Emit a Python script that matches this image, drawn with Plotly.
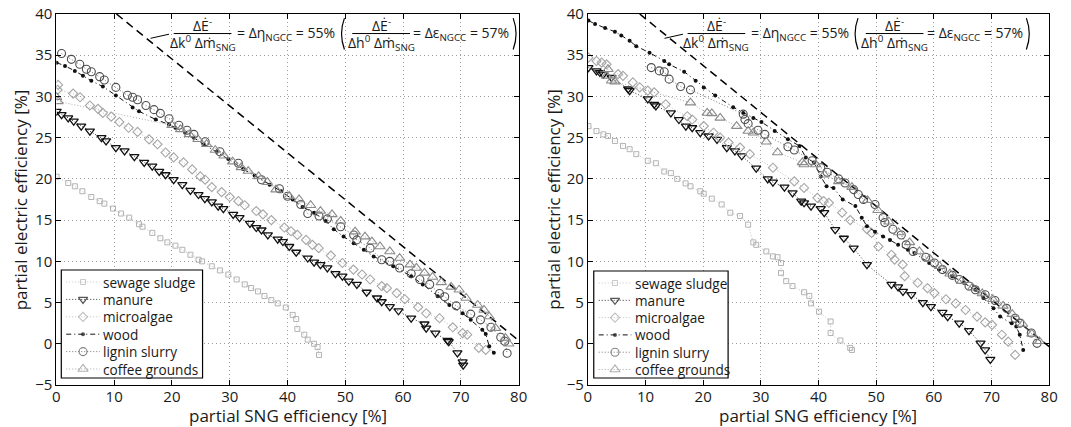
import plotly.graph_objects as go

# ---------------- left panel: basis k0 ----------------
sewage_L_x = [0.05, 2.06, 3.2, 4.5, 6.05, 7.5, 8.3, 9.8, 11.2, 12.6, 14.3, 14.9, 16.6, 18.0, 19.2, 20.6, 21.8, 23.2, 24.6, 25.2,
              26.9, 28.3, 29.75, 31.2, 32.6, 33.7, 34.9, 36.0, 37.2, 38.3, 39.7, 40.9, 41.5, 41.7, 42.9, 43.5, 44.6, 45.2, 45.45]
sewage_L_y = [20.26, 19.5, 19.1, 18.5, 17.8, 17.3, 17.0, 16.4, 15.8, 15.3, 14.5, 14.2, 13.45, 12.8, 12.3, 11.9, 11.4, 10.8, 10.2, 10.0,
              9.4, 8.9, 8.4, 7.8, 7.2, 6.76, 6.35, 5.8, 5.3, 4.9, 4.4, 3.5, 3.0, 1.8, 1.1, 0.5, 0.0, -0.4, -1.35]

manure_L_x = [0.05, 0.9, 2.05, 3.0, 4.3, 5.8, 7.8, 8.6, 10.3, 11.8, 13.5, 15.2, 16.6, 17.8, 18.9, 20.3, 21.8, 23.2, 24.6, 25.7,
              26.9, 28.0, 28.9, 30.6, 31.7, 33.5, 34.6, 35.5, 36.6, 38.3, 39.2, 40.3, 41.5, 43.5, 44.6, 45.7, 46.9, 48.3, 49.5, 50.6,
              52.0, 53.7, 55.5, 56.3, 57.7, 59.2, 61.4, 63.7, 64.0, 65.6, 67.7, 67.9, 69.4, 70.3, 70.4]
manure_L_y = [28.2, 27.8, 27.4, 27.0, 26.4, 25.8, 25.0, 24.6, 23.8, 23.4, 22.7, 22.0, 21.55, 20.9, 20.5, 19.9, 19.3, 18.6, 18.1, 17.6,
              17.2, 16.7, 16.4, 15.7, 15.3, 14.6, 14.1, 13.8, 13.2, 12.7, 12.4, 11.8, 11.1, 10.4, 9.9, 9.6, 9.2, 8.5, 8.2, 7.6,
              7.2, 6.25, 5.55, 5.1, 4.5, 4.0, 3.1, 2.4, 1.9, 1.3, 0.4, 0.26, -1.1, -2.2, -2.6]

algae_L_x = [0.3, 0.2, 2.9, 4.1, 5.8, 7.2, 8.05, 9.5, 10.9, 12.5, 14.05, 16.05, 17.5, 18.9, 20.3, 22.0, 23.5, 24.9, 25.75, 26.9,
             28.6, 30.0, 31.5, 32.6, 34.6, 35.75, 37.2, 39.45, 40.6, 41.7, 43.2, 44.3, 45.4, 47.5, 49.5, 51.4, 52.9, 54.3, 56.3, 57.2,
             58.9, 60.3, 62.6, 64.0, 66.3, 68.6, 70.3, 71.1, 73.1, 74.3]
algae_L_y = [31.4, 30.8, 30.35, 29.9, 28.9, 28.5, 28.0, 27.55, 26.9, 26.2, 25.7, 24.8, 24.2, 23.2, 22.6, 22.0, 21.15, 20.3, 19.9, 19.0,
             18.4, 17.8, 17.3, 16.8, 16.1, 15.7, 15.0, 14.1, 13.65, 13.2, 12.6, 12.0, 11.6, 10.7, 9.8, 9.0, 8.4, 7.8, 7.0, 6.75,
             6.15, 5.4, 4.45, 3.7, 3.1, 2.0, 1.3, 1.1, -0.5, -0.75]

wood_L_x = [0.05, 1.5, 3.2, 4.6, 6.05, 8.05, 10.3, 13.2, 14.3, 17.2, 19.5, 20.6, 22.3, 23.8, 25.5, 27.75, 29.75, 32.3, 34.3, 36.9,
            38.9, 40.9, 42.6, 44.6, 46.6, 48.0, 49.7, 51.45, 53.2, 54.9, 58.3, 61.4, 63.4, 66.0, 68.0, 70.3, 71.7, 73.7, 74.3, 74.9, 75.7]
wood_L_y = [34.1, 33.7, 33.1, 32.5, 31.9, 31.2, 30.1, 28.65, 28.2, 27.2, 26.6, 26.2, 25.6, 25.0, 24.2, 23.3, 22.4, 21.2, 20.4, 19.3,
            18.5, 17.5, 16.6, 15.9, 14.9, 13.9, 13.0, 12.2, 11.4, 10.6, 9.4, 8.2, 7.2, 5.75, 4.7, 3.7, 2.9, 1.7, 1.2, -0.3, -1.1]

lignin_L_x = [0.9, 2.6, 4.05, 5.2, 6.05, 7.5, 8.3, 10.3, 12.3, 13.2, 14.05, 15.5, 16.9, 18.0, 19.5, 21.2, 22.6, 23.8, 25.75, 28.3,
              31.5, 35.5, 38.6, 40.0, 42.3, 43.5, 45.45, 46.9, 49.2, 51.45, 52.0, 54.3, 56.3, 57.7, 59.4, 61.4, 62.9, 64.6, 66.3, 67.2,
              69.2, 71.7, 73.4, 75.2, 76.9, 77.6, 78.0]
lignin_L_y = [35.2, 34.5, 33.9, 33.3, 33.0, 32.4, 32.0, 31.1, 30.15, 29.9, 29.6, 28.9, 28.4, 27.95, 27.3, 26.5, 25.9, 25.4, 24.5, 23.3,
              21.9, 19.9, 18.8, 17.9, 16.9, 15.8, 15.5, 15.15, 14.2, 13.2, 12.6, 11.6, 10.2, 10.0, 9.2, 8.5, 7.8, 7.2, 6.1, 5.7,
              4.6, 3.6, 2.9, 2.0, 0.8, 0.3, -1.15]

coffee_L_x = [0.05, 0.3, 20.0, 21.5, 23.0, 24.5, 26.0, 27.5, 29.0, 30.5, 32.0, 33.2, 35.0, 36.5, 38.0, 40.3, 42.0, 44.0, 45.7, 47.7,
              49.2, 51.7, 53.4, 54.6, 56.0, 57.7, 59.4, 61.2, 62.3, 63.7, 65.1, 66.6, 68.3, 69.7, 70.9, 72.9, 74.0, 74.9, 76.0, 77.7, 78.3]
coffee_L_y = [29.9, 29.4, 26.5, 26.0, 25.4, 24.8, 24.2, 23.5, 22.8, 22.1, 21.4, 20.95, 20.3, 19.6, 18.7, 17.9, 17.5, 16.8, 16.1, 15.7,
              14.9, 13.6, 13.0, 12.4, 11.8, 11.2, 10.4, 9.6, 9.2, 8.6, 8.1, 7.45, 6.9, 6.55, 5.55, 4.7, 4.1, 3.3, 1.9, 0.7, 0.0]

# NGCC reference line, left panel
ngcc_L_x = [10.4, 80.0]
ngcc_L_y = [40.0, 0.4]

# ---------------- right panel: basis h0 ----------------
sewage_R_x = [0.1, 1.5, 2.7, 3.5, 4.7, 6.1, 7.25, 8.4, 10.4, 11.8, 13.25, 14.4, 15.5, 16.95, 17.8, 19.5, 20.1, 21.5, 23.2, 24.7,
              26.4, 27.8, 28.7, 29.2, 30.95, 32.1, 32.9, 33.5, 33.5, 34.4, 35.5, 37.5, 38.4, 38.7, 40.1, 42.1, 42.1, 43.8, 45.5, 45.8]
sewage_R_y = [26.4, 25.8, 25.4, 25.2, 24.6, 24.0, 23.6, 23.0, 22.2, 21.9, 20.9, 20.7, 20.0, 19.45, 19.1, 18.5, 18.2, 17.6, 16.9, 15.9,
              15.5, 14.45, 12.3, 12.0, 11.2, 10.6, 10.5, 9.8, 8.6, 7.6, 7.0, 6.25, 5.8, 4.9, 3.9, 2.7, 1.3, 0.4, -0.5, -0.75]

manure_R_x = [0.1, 1.5, 2.1, 2.7, 4.1, 7.0, 7.25, 10.4, 11.5, 11.8, 14.4, 15.8, 17.0, 18.1, 19.5, 20.95, 22.4, 24.1, 25.5, 26.7,
              29.2, 31.2, 32.1, 34.1, 35.5, 37.0, 37.5, 38.7, 40.4, 41.0, 42.9, 44.4, 46.1, 48.4, 52.65, 53.8, 54.65, 56.1, 58.1, 59.5,
              61.5, 62.4, 64.4, 66.1, 68.1, 68.9, 69.8]
manure_R_y = [33.5, 33.1, 32.9, 32.7, 32.3, 30.9, 30.7, 29.7, 29.05, 28.85, 28.0, 27.2, 26.4, 26.2, 25.6, 25.2, 24.8, 23.8, 23.4, 22.8,
              21.3, 20.0, 19.6, 19.0, 18.3, 17.3, 17.1, 16.7, 16.4, 15.9, 13.85, 12.8, 11.6, 9.6, 7.2, 6.9, 6.35, 5.95, 5.0, 4.5,
              3.8, 3.3, 2.5, 1.6, 0.07, -0.75, -1.9]

algae_R_x = [0.1, 1.5, 2.4, 3.25, 5.25, 6.1, 7.8, 9.0, 10.4, 11.5, 13.5, 17.25, 18.1, 20.1, 21.8, 22.95, 24.4, 26.4, 28.1, 32.1,
             35.8, 37.5, 39.8, 40.9, 41.8, 44.1, 45.5, 48.4, 49.2, 50.4, 52.65, 53.2, 54.6, 54.95, 57.2, 58.9, 60.1, 62.1, 63.8, 65.5,
             67.5, 68.9, 70.1, 71.8, 72.9, 74.1]
algae_R_y = [34.7, 34.3, 34.1, 33.9, 32.7, 32.5, 31.7, 31.1, 30.7, 30.5, 29.05, 27.6, 27.2, 26.4, 25.6, 25.0, 24.4, 23.8, 23.0, 21.35,
             19.7, 18.9, 17.7, 17.3, 17.1, 15.9, 15.0, 13.9, 13.45, 11.8, 10.8, 10.2, 9.6, 8.2, 7.4, 6.75, 6.15, 5.4, 4.9, 4.1,
             3.3, 2.6, 2.3, 1.1, 0.26, -1.35]

wood_R_x = [0.1, 1.25, 3.0, 4.7, 5.8, 7.25, 8.4, 10.7, 13.25, 14.1, 16.7, 18.7, 20.1, 22.1, 25.2, 26.95, 28.7, 30.1, 32.4, 34.7,
            36.7, 37.8, 39.2, 40.4, 41.4, 42.6, 44.2, 46.4, 47.5, 48.4, 49.8, 51.2, 52.4, 53.8, 55.5, 56.65, 59.2, 60.9, 63.2, 65.2,
            67.2, 68.6, 70.35, 71.5, 73.5, 74.3, 74.9, 75.5]
wood_R_y = [39.2, 38.8, 38.3, 37.85, 37.4, 36.75, 36.1, 35.3, 34.3, 33.9, 33.0, 31.9, 31.1, 30.1, 28.7, 28.0, 27.4, 26.9, 25.8, 24.8,
            24.0, 22.6, 22.0, 20.3, 19.1, 18.9, 17.5, 16.7, 15.3, 14.25, 13.6, 13.0, 12.6, 12.0, 11.4, 11.0, 9.8, 9.0, 8.2, 7.4,
            6.55, 5.55, 4.3, 3.3, 2.5, 2.1, 1.1, -0.75]

lignin_R_x = [11.0, 12.4, 13.25, 14.1, 16.1, 17.8, 26.95, 27.25, 27.8, 29.5, 30.7, 34.7, 35.8, 38.9, 40.4, 41.5, 43.5, 44.6, 46.1, 46.9,
              47.8, 49.8, 51.2, 51.5, 52.9, 54.35, 55.2, 56.4, 58.6, 60.1, 61.5, 63.2, 64.4, 66.1, 67.2, 68.9, 70.6, 72.6, 74.1, 74.9,
              76.9, 77.9]
lignin_R_y = [33.5, 33.1, 33.0, 32.1, 31.2, 30.8, 27.85, 27.2, 26.7, 25.9, 25.4, 23.9, 23.5, 22.2, 21.35, 20.8, 20.0, 19.5, 18.7, 18.1,
              17.5, 16.9, 15.3, 14.7, 13.9, 13.2, 12.0, 11.2, 10.5, 9.8, 9.0, 8.3, 7.8, 7.0, 6.55, 5.95, 5.25, 4.3, 3.1, 2.5,
              1.3, 0.05]

coffee_R_x = [3.25, 3.5, 4.1, 4.7, 17.8, 20.7, 21.5, 22.95, 25.8, 27.8, 28.7, 30.95, 32.9, 37.2, 37.5, 39.5, 41.0, 43.5, 45.8, 48.5,
              50.3, 52.2, 53.9, 55.8, 57.5, 59.3, 61.0, 62.8, 64.8, 66.7, 68.4, 70.2, 72.0, 73.6, 75.4, 77.0, 78.3]
coffee_R_y = [32.5, 33.3, 31.9, 31.8, 29.25, 28.0, 27.95, 27.4, 26.4, 25.8, 25.6, 24.5, 23.2, 22.0, 21.75, 21.75, 20.5, 19.7, 19.0, 17.4,
              16.2, 14.8, 13.5, 12.3, 11.2, 10.3, 9.4, 8.5, 7.6, 6.8, 6.1, 5.4, 4.6, 3.6, 2.4, 1.2, 0.3]

ngcc_R_x = [9.0, 80.0]
ngcc_R_y = [40.0, -0.35]

series_names = ["sewage sludge", "manure", "microalgae", "wood", "lignin slurry", "coffee grounds"]
left_data = [(sewage_L_x, sewage_L_y), (manure_L_x, manure_L_y), (algae_L_x, algae_L_y),
             (wood_L_x, wood_L_y), (lignin_L_x, lignin_L_y), (coffee_L_x, coffee_L_y)]
right_data = [(sewage_R_x, sewage_R_y), (manure_R_x, manure_R_y), (algae_R_x, algae_R_y),
              (wood_R_x, wood_R_y), (lignin_R_x, lignin_R_y), (coffee_R_x, coffee_R_y)]

styles = [
    dict(symbol="square-open", size=5, mcolor="#b3b3b3", lcolor="#c4c4c4", dash="1px,2px", mw=1.0),
    dict(symbol="triangle-down-open", size=8, mcolor="#111111", lcolor="#333333", dash="1px,2px", mw=1.3),
    dict(symbol="diamond-open", size=7, mcolor="#a6a6a6", lcolor="#bdbdbd", dash="1px,2px", mw=1.1),
    dict(symbol="circle", size=4, mcolor="#111111", lcolor="#111111", dash="5px,3px,1px,3px", mw=0),
    dict(symbol="circle-open", size=8, mcolor="#4d4d4d", lcolor="#777777", dash="1px,2px", mw=1.1),
    dict(symbol="triangle-up-open", size=9, mcolor="#8a8a8a", lcolor="#a8a8a8", dash="1px,2px", mw=1.1),
]

FONT = "Open Sans, DejaVu Sans, sans-serif"
TXT = "#1a1a1a"

W, H = 1071, 427
TOP, BOT = 14, 42
x1_dom = [53 / W, 521 / W]
x2_dom = [591 / W, 1058 / W]

fig = go.Figure()

for xa, ya, ngx, ngy, data in [("x", "y", ngcc_L_x, ngcc_L_y, left_data),
                               ("x2", "y2", ngcc_R_x, ngcc_R_y, right_data)]:
    fig.add_trace(go.Scatter(x=ngx, y=ngy, mode="lines", xaxis=xa, yaxis=ya, showlegend=False,
                             line=dict(color="black", width=1.5, dash="8px,5px"), hoverinfo="skip"))
    for name, (sx, sy), st in zip(series_names, data, styles):
        fig.add_trace(go.Scatter(
            x=sx, y=sy, name=name, mode="lines+markers", xaxis=xa, yaxis=ya, showlegend=False,
            line=dict(color=st["lcolor"], width=1, dash=st["dash"]),
            marker=dict(symbol=st["symbol"], size=st["size"], color=st["mcolor"],
                        line=dict(color=st["mcolor"], width=st["mw"])),
        ))

# boxed legends in MATLAB style, laid out on a pixel-unit overlay axis (x3/y3)
legend_boxes = [
    dict(box=(58, 270, 201, 378), row0=282.0, step=17.4, line=(63, 97), key=80, text=98),
    dict(box=(597, 271, 733, 378), row0=283.0, step=17.3, line=(602, 635), key=618.5, text=637),
]
ann = []
shapes = []
for lb in legend_boxes:
    x0, y0, x1, y1 = lb["box"]
    shapes.append(dict(type="rect", xref="x3", yref="y3", x0=x0, x1=x1, y0=y0, y1=y1, layer="between",
                       fillcolor="white", line=dict(color="black", width=1.2)))
    for i, (name, st) in enumerate(zip(series_names, styles)):
        ry = lb["row0"] + i * lb["step"]
        fig.add_trace(go.Scatter(
            x=[lb["line"][0], lb["key"], lb["line"][1]], y=[ry, ry, ry], mode="lines+markers",
            xaxis="x3", yaxis="y3", showlegend=False, hoverinfo="skip",
            line=dict(color=st["lcolor"], width=1, dash=st["dash"]),
            marker=dict(symbol=st["symbol"], size=[0, st["size"], 0], color=st["mcolor"],
                        line=dict(color=st["mcolor"], width=st["mw"])),
        ))
        ann.append(dict(text=name, xref="x3", yref="y3", x=lb["text"], y=ry, showarrow=False,
                        xanchor="left", yanchor="middle", font=dict(size=13.6)))

axis_style = dict(ticks="inside", ticklen=5, tickcolor="black", showline=True, linecolor="black",
                  linewidth=1, mirror="allticks", showgrid=True, gridcolor="#9c9c9c",
                  griddash="1px,3px", gridwidth=1, zeroline=False,
                  tickfont=dict(size=15, color=TXT, family=FONT))

fig.update_layout(
    width=W, height=H, margin=dict(l=0, r=0, t=TOP, b=BOT),
    paper_bgcolor="white", plot_bgcolor="rgba(0,0,0,0)",
    font=dict(family=FONT, color=TXT),
    xaxis=dict(domain=x1_dom, range=[0, 80], dtick=10, anchor="y", ticklabelstandoff=-2, **axis_style),
    yaxis=dict(domain=[0, 1], range=[-5, 40], dtick=5, anchor="x", **axis_style),
    xaxis2=dict(domain=x2_dom, range=[0, 80], dtick=10, anchor="y2", ticklabelstandoff=-2, **axis_style),
    yaxis2=dict(domain=[0, 1], range=[-5, 40], dtick=5, anchor="x2", **axis_style),
    xaxis3=dict(domain=[0, 1], range=[0, W], visible=False, fixedrange=True, anchor="y3"),
    yaxis3=dict(domain=[0, 1], range=[H - BOT, TOP], visible=False, fixedrange=True, anchor="x3"),
    showlegend=False,
)

plot_h = H - TOP - BOT
for dom, yt_x in [(x1_dom, 17), (x2_dom, 556)]:
    ann.append(dict(text="partial SNG efficiency [%]", xref="paper", yref="paper",
                    x=(dom[0] + dom[1]) / 2, y=(H - BOT - 415) / plot_h, showarrow=False,
                    xanchor="center", yanchor="middle", font=dict(size=17)))
    ann.append(dict(text="partial electric efficiency [%]", xref="paper", yref="paper",
                    x=yt_x / W, y=0.5, showarrow=False, textangle=-90,
                    xanchor="center", yanchor="middle", font=dict(size=17)))


# annotation of the NGCC reference line: two stacked fractions
def formula(xr, yr, dx):
    fs = 14
    y_bar, y_num, y_den = 37.63, 38.7, 36.45
    b1 = (20.3 + dx, 30.3 + dx)
    b2 = (51.2 + dx, 61.2 + dx)
    items = [
        ("ΔĖ<sup>-</sup>", (b1[0] + b1[1]) / 2, y_num, "center"),
        ("Δk<sup>0</sup> Δṁ<sub>SNG</sub>", (b1[0] + b1[1]) / 2, y_den, "center"),
        ("= Δη<sub>NGCC</sub> = 55%", 30.9 + dx, y_bar, "left"),
        ("ΔĖ<sup>-</sup>", (b2[0] + b2[1]) / 2, y_num, "center"),
        ("Δh<sup>0</sup> Δṁ<sub>SNG</sub>", (b2[0] + b2[1]) / 2, y_den, "center"),
        ("= Δε<sub>NGCC</sub> = 57%", 61.4 + dx, y_bar, "left"),
    ]
    for t, x, y, xa in items:
        ann.append(dict(text=t, x=x, y=y, xref=xr, yref=yr, showarrow=False, xanchor=xa,
                        yanchor="middle", font=dict(size=fs)))
    for a, b in (b1, b2):
        shapes.append(dict(type="line", xref=xr, yref=yr, x0=a, x1=b, y0=y_bar, y1=y_bar,
                           line=dict(color="black", width=1)))
    # leader line towards the dashed NGCC line
    shapes.append(dict(type="line", xref=xr, yref=yr, x0=16.3 + dx, y0=37.05, x1=19.5 + dx, y1=37.55,
                       line=dict(color="black", width=1)))
    # large parentheses
    pl, pr = 49.4 + dx, 79.5 + dx
    yt, yb, ym = 39.5, 35.7, 37.6
    shapes.append(dict(type="path", xref=xr, yref=yr,
                       path=f"M {pl + 0.45},{yt} Q {pl - 0.55},{ym} {pl + 0.45},{yb}",
                       line=dict(color="black", width=1.2)))
    shapes.append(dict(type="path", xref=xr, yref=yr,
                       path=f"M {pr - 0.45},{yt} Q {pr + 0.55},{ym} {pr - 0.45},{yb}",
                       line=dict(color="black", width=1.2)))


formula("x", "y", 0.0)
formula("x2", "y2", -3.0)

fig.update_layout(annotations=ann, shapes=shapes)
fig.write_html("out.html")
